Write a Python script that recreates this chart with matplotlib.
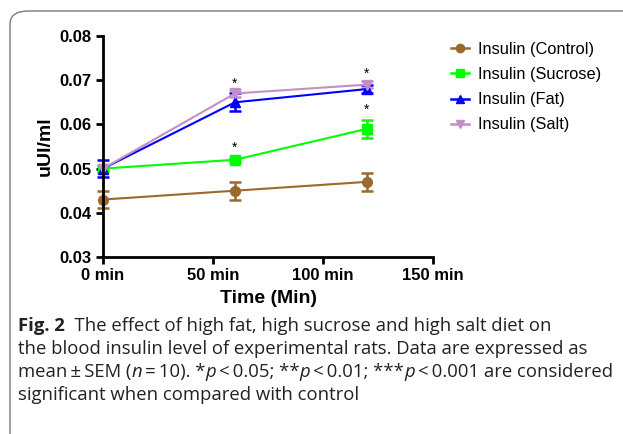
import matplotlib.pyplot as plt
import matplotlib.patches as patches
from matplotlib.lines import Line2D

# data
times = [0, 60, 120]
control = [0.043, 0.045, 0.047]
control_err = [0.002, 0.002, 0.002]
sucrose = [0.050, 0.052, 0.059]
sucrose_err = [0.0005, 0.0005, 0.002]
fat = [0.050, 0.065, 0.068]
fat_err = [0.002, 0.002, 0.001]
salt = [0.050, 0.067, 0.069]
salt_err = [0.0008, 0.0008, 0.0008]
star_x = [60, 60, 120, 120]
star_y = [0.0692, 0.0548, 0.0715, 0.0632]

xticks = [0, 50, 100, 150]
xtick_labels = ['0 min', '50 min', '100 min', '150 min']
yticks = [0.03, 0.04, 0.05, 0.06, 0.07, 0.08]

plt.rcParams['font.family'] = ['Liberation Sans', 'DejaVu Sans']

fig = plt.figure(figsize=(6.23, 4.34), dpi=100)

# outer frame with round corner
frame = patches.FancyBboxPatch((10 / 623, -0.2), 1.2, 1 - 11 / 434 + 0.2,
                               boxstyle='round,pad=0,rounding_size=0.03',
                               transform=fig.transFigure, fill=False,
                               edgecolor='#7a7a7a', linewidth=1.0)
fig.patches.append(frame)

ax = fig.add_axes([103 / 623, 1 - 257 / 434, 330 / 623, 221 / 434])

series = [
    ('Insulin (Control)', control, control_err, '#9a6a2c', 'o'),
    ('Insulin (Sucrose)', sucrose, sucrose_err, '#00ff00', 's'),
    ('Insulin (Fat)', fat, fat_err, '#0000ff', '^'),
    ('Insulin (Salt)', salt, salt_err, '#c48fc4', 'v'),
]
handles = []
for label, vals, err, col, mk in series:
    ax.errorbar(times, vals, yerr=err, color=col, marker=mk, markersize=7,
                linewidth=1.5, capsize=4, capthick=1.8, elinewidth=1.8,
                clip_on=False)
    handles.append(Line2D([], [], color=col, marker=mk, markersize=6,
                          linewidth=1.8, label=label))

for sx, sy in zip(star_x, star_y):
    ax.text(sx, sy, '*', ha='center', va='center', fontsize=10)

ax.set_xlim(0, 150)
ax.set_ylim(0.03, 0.08)
ax.set_xticks(xticks)
ax.set_xticklabels(xtick_labels)
ax.set_yticks(yticks)
ax.set_yticklabels(['%.2f' % v for v in yticks])
for s in ['top', 'right']:
    ax.spines[s].set_visible(False)
for s in ['left', 'bottom']:
    ax.spines[s].set_linewidth(2)
ax.tick_params(width=2, length=5, labelsize=12, pad=3)
for t in ax.get_xticklabels() + ax.get_yticklabels():
    t.set_fontweight('bold')
ax.set_xlabel('Time (Min)', fontsize=14, fontweight='bold', labelpad=5)
ax.set_ylabel('uUI/ml', fontsize=14, fontweight='bold', labelpad=4)

fig.legend(handles=handles, loc='upper left', bbox_to_anchor=(451 / 623, 1 - 42 / 434),
           frameon=False, fontsize=11.8, handlelength=1.1, handletextpad=0.55,
           labelspacing=0.62, borderaxespad=0, borderpad=0)

# caption, drawn piece by piece so bold / italic parts can be mixed
cap_font = ['Open Sans', 'DejaVu Sans']
lines = [
    [('Fig. 2', 'bold', 'normal'), ('  The effect of high fat, high sucrose and high salt diet on', 'normal', 'normal')],
    [('the blood insulin level of experimental rats. Data are expressed as', 'normal', 'normal')],
    [('mean\u2009\u00b1\u2009SEM (', 'normal', 'normal'), ('n', 'normal', 'italic'),
     ('\u2009=\u200910). *', 'normal', 'normal'), ('p', 'normal', 'italic'),
     ('\u2009<\u20090.05; **', 'normal', 'normal'), ('p', 'normal', 'italic'),
     ('\u2009<\u20090.01; ***', 'normal', 'normal'), ('p', 'normal', 'italic'),
     ('\u2009<\u20090.001 are considered', 'normal', 'normal')],
    [('significant when compared with control', 'normal', 'normal')],
]
line_y = [326, 349, 372, 395]
fig.canvas.draw()
renderer = fig.canvas.get_renderer()
for pieces, py in zip(lines, line_y):
    x = 18
    for txt, wt, st in pieces:
        t = fig.text(x / 623, 1 - py / 434, txt, ha='left', va='center',
                     fontsize=13.3, fontweight=wt, fontstyle=st,
                     family=cap_font, color='#222222')
        bb = t.get_window_extent(renderer=renderer)
        x += bb.width

fig.savefig('out.png', dpi=100)
